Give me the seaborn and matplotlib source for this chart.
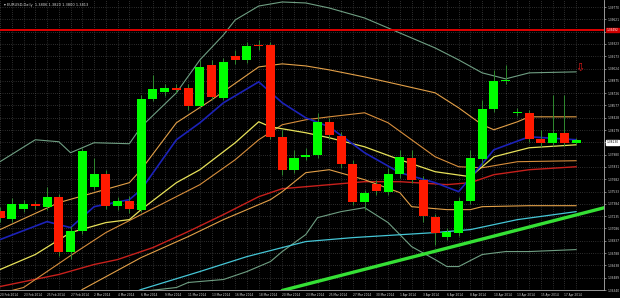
import numpy as np
import pandas as pd
import matplotlib
matplotlib.use("Agg")
import matplotlib.pyplot as plt
import matplotlib.transforms as mtrans
import seaborn as sns

# ---------------- data ----------------
dates = ["20 Feb", "21 Feb", "23 Feb", "24 Feb", "25 Feb", "26 Feb", "27 Feb", "28 Feb",
         "2 Mar", "3 Mar", "4 Mar", "5 Mar", "6 Mar", "7 Mar", "9 Mar", "10 Mar", "11 Mar",
         "12 Mar", "13 Mar", "14 Mar", "16 Mar", "17 Mar", "18 Mar", "19 Mar", "20 Mar",
         "21 Mar", "23 Mar", "24 Mar", "25 Mar", "26 Mar", "27 Mar", "28 Mar", "30 Mar",
         "31 Mar", "1 Apr", "2 Apr", "3 Apr", "4 Apr", "6 Apr", "7 Apr", "8 Apr", "9 Apr",
         "10 Apr", "11 Apr", "13 Apr", "14 Apr", "15 Apr", "16 Apr", "17 Apr", "18 Apr"]

opens = [1.37302, 1.37205, 1.37326, 1.37387, 1.37350, 1.37471, 1.36806, 1.37060,
         1.37592, 1.37750, 1.37362, 1.37423, 1.37314, 1.38657, 1.38742, 1.38790,
         1.38790, 1.38572, 1.39069, 1.38669, 1.39177, 1.39129, 1.39311, 1.39311,
         1.38197, 1.37798, 1.37955, 1.37980, 1.38379, 1.38209, 1.37871, 1.37411,
         1.37629, 1.37532, 1.37750, 1.37943, 1.37677, 1.37229, 1.36987, 1.37036,
         1.37423, 1.37931, 1.38536, 1.38875, 1.38488, 1.38488, 1.38173, 1.38125,
         1.38246, 1.38125]
highs = [1.37350, 1.37459, 1.37435, 1.37423, 1.37592, 1.37508, 1.37120, 1.38064,
         1.37943, 1.37798, 1.37471, 1.37483, 1.38706, 1.38948, 1.38839, 1.38839,
         1.38839, 1.39129, 1.39129, 1.39153, 1.39250, 1.39347, 1.39371, 1.39347,
         1.38282, 1.38040, 1.38064, 1.38488, 1.38427, 1.38258, 1.37919, 1.37556,
         1.37677, 1.37822, 1.38040, 1.38040, 1.37725, 1.37266, 1.37096, 1.37471,
         1.38040, 1.38645, 1.39008, 1.39069, 1.38548, 1.38524, 1.38282, 1.38706,
         1.38706, 1.38185]
lows = [1.37169, 1.37169, 1.37290, 1.37326, 1.37314, 1.36757, 1.36721, 1.37024,
        1.37556, 1.37326, 1.37314, 1.37278, 1.37290, 1.38633, 1.38693, 1.38730,
        1.38524, 1.38548, 1.38645, 1.38645, 1.39081, 1.39093, 1.39250, 1.38173,
        1.37738, 1.37762, 1.37919, 1.37943, 1.38173, 1.37822, 1.37375, 1.37314,
        1.37496, 1.37496, 1.37701, 1.37641, 1.37169, 1.36891, 1.36951, 1.36999,
        1.37387, 1.37859, 1.38500, 1.38839, 1.38451, 1.38137, 1.38076, 1.38088,
        1.38088, 1.38113]
closes = [1.37217, 1.37387, 1.37387, 1.37362, 1.37471, 1.36806, 1.37060, 1.38028,
          1.37750, 1.37362, 1.37423, 1.37326, 1.38657, 1.38778, 1.38790, 1.38766,
          1.38572, 1.39044, 1.38681, 1.39105, 1.39129, 1.39298, 1.39298, 1.38197,
          1.37798, 1.37943, 1.37980, 1.38379, 1.38222, 1.37871, 1.37411, 1.37520,
          1.37544, 1.37750, 1.37955, 1.37677, 1.37241, 1.37036, 1.37048, 1.37423,
          1.37943, 1.38536, 1.38875, 1.38887, 1.38500, 1.38173, 1.38125, 1.38246,
          1.38125, 1.38161]

# indicator lines (bar index, price)
bb2u_x = [0, 3, 5, 6, 8, 11, 12, 15, 17, 19, 20, 22, 24, 26, 28, 31, 33, 35, 37, 39, 41, 43, 45, 49]
bb2u_y = [1.37895, 1.38161, 1.38137, 1.38004, 1.38125, 1.38113, 1.38318, 1.38730, 1.39129,
          1.39432, 1.39613, 1.39782, 1.39831, 1.39819, 1.39758, 1.39637, 1.39516, 1.39395,
          1.39274, 1.39129, 1.38972, 1.38899, 1.38972, 1.38984]
bb1u_x = [0, 5, 11, 12, 15, 18, 22, 24, 26, 28, 31, 34, 37, 39, 41, 42, 44, 45, 49]
bb1u_y = [1.37072, 1.37399, 1.37641, 1.37798, 1.38367, 1.38645, 1.39044, 1.39081, 1.39056,
          1.39008, 1.38923, 1.38827, 1.38730, 1.38548, 1.38343, 1.38282, 1.38379, 1.38439, 1.38439]
bbm_x = [0, 2, 6, 9, 12, 17, 20, 22, 24, 26, 28, 31, 33, 35, 37, 39, 41, 44, 49]
bbm_y = [1.36298, 1.36370, 1.36757, 1.37036, 1.37254, 1.37617, 1.37919, 1.38161, 1.38343,
         1.38403, 1.38439, 1.38488, 1.38367, 1.38161, 1.37955, 1.37834, 1.37822, 1.37895, 1.37907]
bb1l_x = [5, 7, 12, 16, 19, 23, 24, 26, 28, 31, 34, 35, 38, 40, 41, 45, 49]
bb1l_y = [1.36104, 1.36346, 1.36733, 1.36987, 1.37193, 1.37435, 1.37532, 1.37762, 1.37798,
          1.37677, 1.37520, 1.37350, 1.37314, 1.37314, 1.37350, 1.37362, 1.37362]
bb2l_x = [11, 12, 15, 16, 19, 21, 23, 24, 26, 27, 29, 31, 33, 35, 37, 38, 39, 41, 43, 45, 49]
bb2l_y = [1.36225, 1.36322, 1.36370, 1.36431, 1.36467, 1.36564, 1.36685, 1.36806, 1.37012,
          1.37217, 1.37290, 1.37338, 1.37157, 1.36866, 1.36709, 1.36624, 1.36624, 1.36770,
          1.36806, 1.36806, 1.36830]
red_x = [0, 5, 8, 10, 13, 16, 19, 22, 24, 26, 31, 34, 38, 40, 42, 45, 49]
red_y = [1.36382, 1.36528, 1.36649, 1.36709, 1.36854, 1.37048, 1.37254, 1.37471, 1.37568,
         1.37592, 1.37653, 1.37653, 1.37617, 1.37641, 1.37738, 1.37798, 1.37834]
cyan_x = [10, 12, 17, 21, 26, 30, 37, 40, 44, 49]
cyan_y = [1.36225, 1.36346, 1.36564, 1.36745, 1.36927, 1.36975, 1.37036, 1.37072, 1.37193, 1.37290]
blue_x = [0, 4, 6, 8, 11, 12, 15, 17, 19, 22, 24, 26, 28, 31, 34, 37, 39, 40, 42, 45, 49]
blue_y = [1.36951, 1.37169, 1.37096, 1.37350, 1.37435, 1.37556, 1.38161, 1.38367, 1.38609,
          1.38863, 1.38609, 1.38427, 1.38318, 1.38004, 1.37762, 1.37641, 1.37532, 1.37700,
          1.38040, 1.38197, 1.38161]
yel_x = [0, 3, 6, 9, 11, 12, 15, 17, 20, 22, 23, 26, 28, 31, 34, 37, 40, 41, 42, 45, 49]
yel_y = [1.36588, 1.36770, 1.37036, 1.37157, 1.37193, 1.37314, 1.37641, 1.37798, 1.38125,
         1.38379, 1.38318, 1.38246, 1.38185, 1.38076, 1.37919, 1.37774, 1.37713, 1.37834,
         1.37955, 1.38064, 1.38100]
trend_x = [24.0, 51.4]
trend_y = [1.36334, 1.37338]
resistance = 1.39492
last_price = 1.38130
arrow_bar, arrow_price = 49.3, 1.39032

yticks = [1.39770, 1.39621, 1.39472, 1.39323, 1.39173, 1.39024, 1.38875, 1.38726,
          1.38577, 1.38428, 1.38279, 1.38130, 1.37980, 1.37831, 1.37682, 1.37533,
          1.37384, 1.37235, 1.37086, 1.36937, 1.36788, 1.36638, 1.36489, 1.36340]
title = "EURUSD,Daily  1.3806 1.3820 1.3800 1.3813"

# ---------------- style ----------------
sns.set_theme(style="dark", rc={"axes.facecolor": "black", "figure.facecolor": "black",
                                "axes.edgecolor": "#b0b0b0", "text.color": "#d8d8d8",
                                "xtick.color": "#d8d8d8", "ytick.color": "#d8d8d8"})
plt.rcParams["font.family"] = ["DejaVu Sans"]

fig = plt.figure(figsize=(6.2, 2.98), dpi=100)
ax = fig.add_axes([0, 8 / 298, 604 / 620, 290 / 298])
ax.set_facecolor("black")

n = len(dates)
idx = np.arange(n)
df = pd.DataFrame({"i": idx, "o": opens, "h": highs, "l": lows, "c": closes})
df["up"] = df["c"] >= df["o"]

# indicator lines
lines = [
    (bb2u_x, bb2u_y, "#6f9f83", 0.8),
    (bb2l_x, bb2l_y, "#6f9f83", 0.8),
    (cyan_x, cyan_y, "#45c6d6", 0.9),
    (red_x, red_y, "#c8201c", 1.0),
    (bb1u_x, bb1u_y, "#e3a048", 0.8),
    (bbm_x, bbm_y, "#d88e3c", 0.8),
    (bb1l_x, bb1l_y, "#e3a048", 0.8),
    (yel_x, yel_y, "#e8e25a", 0.9),
    (blue_x, blue_y, "#1c22b8", 1.2),
]
for xs, ys, col, lw in lines:
    sns.lineplot(x=xs, y=ys, ax=ax, color=col, linewidth=lw, estimator=None, sort=False,
                 zorder=2)

# candles
ax.vlines(df["i"], df["l"], df["h"], color="#2f8a2f", linewidth=0.7, zorder=3)
body_lo = np.minimum(df["o"], df["c"])
body_h = np.maximum(np.abs(df["c"] - df["o"]), 0.00003)
ax.bar(df["i"][df["up"]], body_h[df["up"]], bottom=body_lo[df["up"]], width=0.77,
       color="#00ff00", linewidth=0, zorder=4)
ax.bar(df["i"][~df["up"]], body_h[~df["up"]], bottom=body_lo[~df["up"]], width=0.77,
       color="#ff1a00", linewidth=0, zorder=4)

# trendline and resistance
sns.lineplot(x=trend_x, y=trend_y, ax=ax, color="#35e035", linewidth=2.4, zorder=5)
ax.axhline(resistance, color="#e00000", linewidth=1.4, zorder=5)
ax.text(arrow_bar, arrow_price, "\u21e9", color="#e01818", fontsize=8, ha="center",
        va="center", zorder=6)

ax.set_xlim(0, 51.36)
ax.set_ylim(1.36346, 1.39855)

# ticks
ax.yaxis.tick_right()
ax.set_yticks(yticks)
ylabels = [f"{v:.5f}" if abs(v - last_price) > 1e-6 else "" for v in yticks]
ax.set_yticklabels(ylabels, fontsize=2.1)
ax.set_xticks(idx)
ax.set_xticklabels([f"{d} 2014" if i % 2 == 0 else "" for i, d in enumerate(dates)],
                   fontsize=2.1, ha="left")
ax.tick_params(axis="both", length=1.5, width=0.4, pad=0.8)
ax.grid(True, color="#8a8a8a", linestyle=(0, (1, 2.5)), linewidth=0.45, alpha=0.8)
ax.set_axisbelow(True)
for s in ["left", "top"]:
    ax.spines[s].set_visible(False)
ax.spines["right"].set_linewidth(0.6)
ax.spines["bottom"].set_linewidth(0.6)
ax.set_xlabel("")
ax.set_ylabel("")

blend = mtrans.blended_transform_factory(ax.transAxes, ax.transData)
ax.text(1.004, last_price, f"{last_price:.5f}", transform=blend, fontsize=2.1, color="black",
        va="center", ha="left", clip_on=False, zorder=7,
        bbox=dict(boxstyle="square,pad=0.15", fc="white", ec="white"))
ax.text(1.004, resistance, f"{resistance:.5f}", transform=blend, fontsize=2.1, color="white",
        va="center", ha="left", clip_on=False, zorder=7,
        bbox=dict(boxstyle="square,pad=0.1", fc="#d00000", ec="#d00000"))

fig.text(0.006, 0.99, "\u25be " + title, fontsize=2.6, color="#d8d8d8", va="top", ha="left")

fig.savefig("out.png", dpi=100, facecolor="black")
